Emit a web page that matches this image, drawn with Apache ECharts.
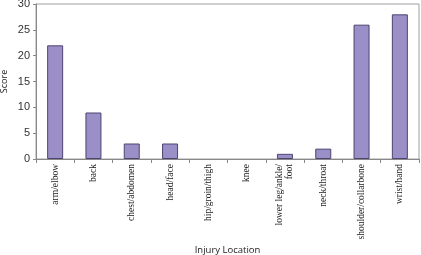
<!DOCTYPE html>
<html>
<head>
<meta charset="utf-8">
<script src="https://cdn.jsdelivr.net/npm/echarts@6/dist/echarts.min.js"></script>
<style>
  html, body { margin: 0; padding: 0; background: #fff; }
  #chart { width: 421px; height: 255px; }
</style>
</head>
<body>
<div id="chart"></div>
<script>
// injury location vs score
var categories = ['arm/elbow', 'back', 'chest/abdomen', 'head/face', 'hip/groin/thigh',
    'knee', 'lower leg/ankle/ foot', 'neck/throat', 'shoulder/collarbone', 'wrist/hand'];
var scores = [22, 9, 3, 3, 0, 0, 1, 2, 26, 28];
var yTicks = [0, 5, 10, 15, 20, 25, 30];

var myChart = echarts.init(document.getElementById('chart'));
myChart.setOption({
    backgroundColor: '#fff',
    animation: false,
    grid: {
        left: 36,
        right: 2,
        top: 4,
        bottom: 96,
        outerBoundsMode: 'none',
        containLabel: false,
        show: true,
        borderColor: '#a0a0a0',
        borderWidth: 1
    },
    xAxis: {
        type: 'category',
        data: categories,
        name: 'Injury Location',
        nameLocation: 'middle',
        nameGap: 86,
        nameMoveOverlap: false,
        nameTextStyle: {
            fontFamily: 'Open Sans',
            fontSize: 9.5,
            color: '#222'
        },
        axisLine: { lineStyle: { color: '#888' } },
        axisTick: { show: true, length: 4, inside: false, lineStyle: { color: '#888' } },
        axisLabel: {
            rotate: 90,
            interval: 0,
            margin: 5,
            fontFamily: 'Liberation Serif',
            fontSize: 9.5,
            color: '#222',
            lineHeight: 10,
            formatter: function (v) {
                return v.replace('/ ', '/\n');
            }
        }
    },
    yAxis: {
        type: 'value',
        min: yTicks[0],
        max: yTicks[yTicks.length - 1],
        interval: 5,
        name: 'Score',
        nameLocation: 'middle',
        nameGap: 27,
        nameMoveOverlap: false,
        nameTextStyle: {
            fontFamily: 'Open Sans',
            fontSize: 9,
            color: '#222'
        },
        axisLine: { show: true, lineStyle: { color: '#888' } },
        axisTick: { show: true, length: 3, lineStyle: { color: '#888' } },
        splitLine: { show: false },
        axisLabel: {
            margin: 6,
            fontFamily: 'Liberation Sans',
            fontSize: 11,
            color: '#333'
        }
    },
    series: [
        {
            type: 'bar',
            data: scores.map(function (v) {
                return { value: v, itemStyle: { borderWidth: v === 0 ? 0 : 1 } };
            }),
            barWidth: 16,
            itemStyle: {
                color: '#9a8fc6',
                borderColor: '#4d4470',
                borderWidth: 1
            }
        }
    ]
});
</script>
</body>
</html>
